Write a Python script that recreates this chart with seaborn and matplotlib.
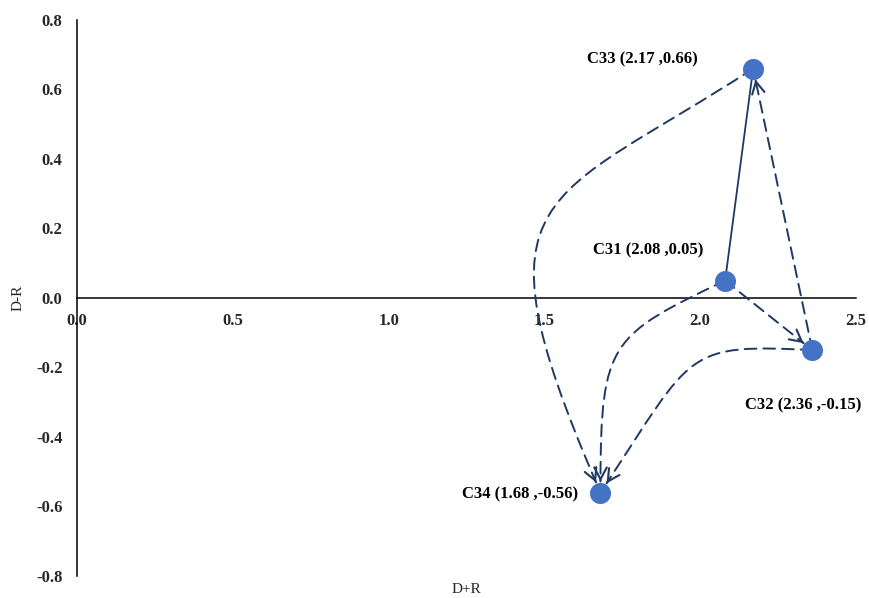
import numpy as np
import pandas as pd
import matplotlib
matplotlib.use("Agg")
import matplotlib.pyplot as plt
import seaborn as sns
from matplotlib.patches import ConnectionStyle, FancyArrowPatch
from matplotlib.path import Path
from matplotlib.ticker import FormatStrFormatter

# ---------------- data ----------------
criteria = ["C31", "C32", "C33", "C34"]
d_plus_r = [2.08, 2.36, 2.17, 1.68]
d_minus_r = [0.05, -0.15, 0.66, -0.56]
point_labels = ["C31 (2.08 ,0.05)", "C32 (2.36 ,-0.15)",
                "C33 (2.17 ,0.66)", "C34 (1.68 ,-0.56)"]
x_ticks = [0.0, 0.5, 1.0, 1.5, 2.0, 2.5]
y_ticks = [-0.8, -0.6, -0.4, -0.2, 0.0, 0.2, 0.4, 0.6, 0.8]

# influence relations: source -> target
links_from = ["C31", "C31", "C31", "C32", "C32", "C33"]
links_to = ["C33", "C32", "C34", "C33", "C34", "C34"]

# ---------------- styles ----------------
POINT_C = "#4472C4"
LINE_C = "#1F3864"
# per link: (solid?, connection params or None for straight)
link_style = {
    ("C31", "C33"): (True, None),
    ("C31", "C32"): (False, None),
    ("C31", "C34"): (False, (205.5, 90.0, 0.53, 0.61)),
    ("C32", "C33"): (False, None),
    ("C32", "C34"): (False, (177.0, 56.5, 0.51, 0.66)),
    ("C33", "C34"): (False, (213.0, 113.5, 0.56, 0.74)),
}
# label offsets in points (dx, dy, ha)
label_off = {
    "C31": (-15.8, 21.5, "right"),
    "C32": (-6.5, -39.6, "center"),
    "C33": (-39.6, 6.5, "right"),
    "C34": (-15.8, -1.4, "right"),
}


class CubicConnect(ConnectionStyle._Base):
    def __init__(self, angleA=0.0, angleB=0.0, fracA=0.3, fracB=0.3):
        self.angleA = angleA
        self.angleB = angleB
        self.fracA = fracA
        self.fracB = fracB

    def connect(self, posA, posB):
        x1, y1 = posA
        x2, y2 = posB
        d = np.hypot(x2 - x1, y2 - y1)
        a = np.deg2rad(self.angleA)
        b = np.deg2rad(self.angleB)
        c1 = (x1 + self.fracA * d * np.cos(a), y1 + self.fracA * d * np.sin(a))
        c2 = (x2 + self.fracB * d * np.cos(b), y2 + self.fracB * d * np.sin(b))
        return Path([(x1, y1), c1, c2, (x2, y2)],
                    [Path.MOVETO, Path.CURVE4, Path.CURVE4, Path.CURVE4])


class HeadOnly(ConnectionStyle._Base):
    """Keeps only a tiny final piece of another connection (for a solid head)."""
    def __init__(self, inner, length=1.0):
        self.inner = inner
        self.length = length

    def __call__(self, posA, posB, shrinkA=2., shrinkB=2., patchA=None, patchB=None):
        p = self.inner(posA, posB, shrinkA=shrinkA, shrinkB=shrinkB,
                       patchA=patchA, patchB=patchB)
        v = p.vertices
        end = v[-1]
        prev = v[-2]
        d = end - prev
        n = np.hypot(*d)
        d = d / n if n > 0 else np.array([1.0, 0.0])
        return Path([end - d * self.length, end])


sns.set_style("white")
plt.rcParams["font.family"] = ["Liberation Serif", "DejaVu Serif"]
plt.rcParams["font.weight"] = "bold"
plt.rcParams["axes.unicode_minus"] = False

df = pd.DataFrame({"criterion": criteria, "D+R": d_plus_r, "D-R": d_minus_r,
                   "label": point_labels})

fig = plt.figure(figsize=(8.69, 5.98), dpi=100)
ax = fig.add_axes([0.0886, 0.0368, 0.8964, 0.9298])

sns.scatterplot(data=df, x="D+R", y="D-R", s=230, color=POINT_C,
                linewidth=0, ax=ax, zorder=5, legend=False)

pos = {c: (x, y) for c, x, y in zip(criteria, d_plus_r, d_minus_r)}

for src, dst in zip(links_from, links_to):
    solid, params = link_style[(src, dst)]
    if params is None:
        conn = ConnectionStyle("arc3", rad=0.0)
    else:
        conn = CubicConnect(*params)
    body = FancyArrowPatch(posA=pos[src], posB=pos[dst], transform=ax.transData,
                           connectionstyle=conn, arrowstyle="-",
                           color=LINE_C, lw=1.4 if not solid else 1.3,
                           linestyle="-" if solid else (0, (6.0, 3.6)),
                           shrinkA=0, shrinkB=0 if solid else 8.0, zorder=3)
    ax.add_patch(body)
    if not solid:
        head = FancyArrowPatch(posA=pos[src], posB=pos[dst], transform=ax.transData,
                               connectionstyle=HeadOnly(conn, 1.0),
                               arrowstyle="->,head_length=0.85,head_width=0.45",
                               mutation_scale=10, color=LINE_C, lw=1.5,
                               shrinkA=0, shrinkB=8.0, zorder=3,
                               capstyle="round", joinstyle="miter")
        ax.add_patch(head)

for c, lab in zip(criteria, point_labels):
    dx, dy, ha = label_off[c]
    ax.annotate(lab, xy=pos[c], xytext=(dx, dy), textcoords="offset points",
                ha=ha, va="center", fontsize=12, fontweight="bold", color="black")

ax.set_xlim(0, 2.5)
ax.set_ylim(-0.8, 0.8)
ax.set_xticks(x_ticks)
ax.set_yticks(y_ticks)
ax.xaxis.set_major_formatter(FormatStrFormatter("%.1f"))
ax.yaxis.set_major_formatter(FormatStrFormatter("%.1f"))
ax.tick_params(axis="x", length=0, pad=11, labelsize=12)
ax.tick_params(axis="y", length=0, pad=10.5, labelsize=12)

for side in ["top", "right"]:
    ax.spines[side].set_visible(False)
ax.spines["left"].set_position(("data", 0))
ax.spines["bottom"].set_position(("data", 0))
for side in ["left", "bottom"]:
    ax.spines[side].set_color("black")
    ax.spines[side].set_linewidth(1.1)

ax.set_xlabel("D+R", fontsize=11, fontweight="normal")
ax.set_ylabel("D-R", fontsize=11, fontweight="normal")
ax.xaxis.set_label_coords(0.5, -0.012)
ax.yaxis.set_label_coords(-0.0668, 0.5)
ax.grid(False)
ax.patch.set_alpha(0)

fig.savefig("out.png", dpi=100)
